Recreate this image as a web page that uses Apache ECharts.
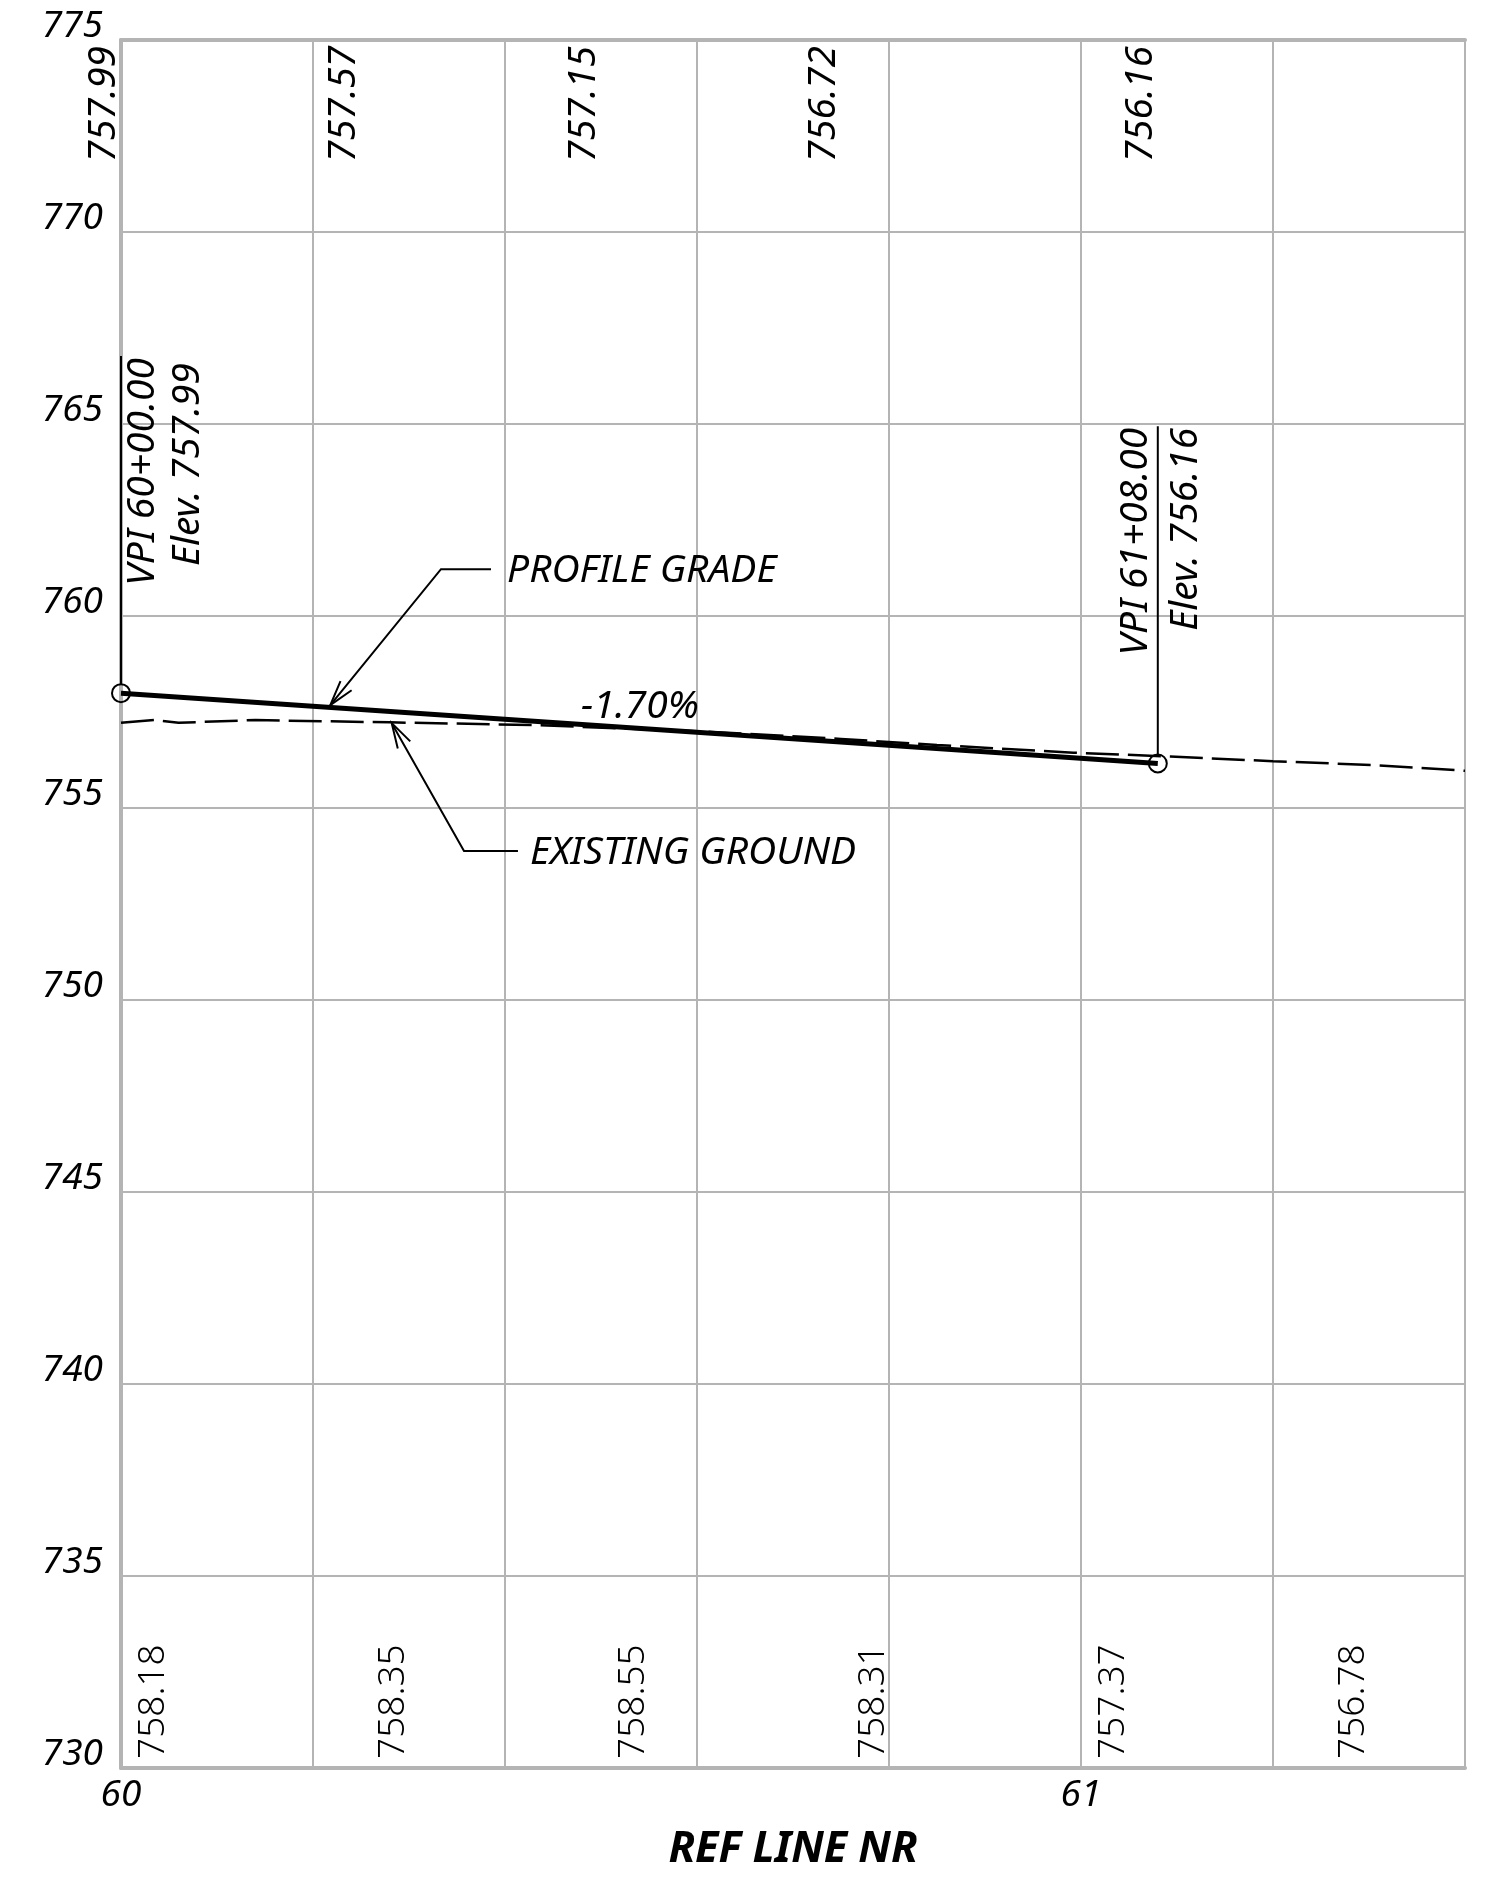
<!DOCTYPE html>
<html>
<head>
<meta charset="utf-8">
<script src="https://cdn.jsdelivr.net/npm/echarts@6/dist/echarts.min.js"></script>
<style>
html,body{margin:0;padding:0;background:#fff;}
#chart{width:1490px;height:1880px;}
</style>
</head>
<body>
<div id="chart"></div>
<script>
// ---------- axes ----------
const xMin = 60, xMax = 61.4, xStep = 0.2;
const yMin = 730, yMax = 775, yStep = 5;
const xTickLabelStations = [60, 61];
const xAxisTitle = 'REF LINE NR';

// ---------- profile grade ----------
const gradeStations = [60.00, 61.08];
const gradeElevs = [757.99, 756.16];
const gradeText = ['-1.70%'];
const gradeTextX = [60.5406];
const gradeTextY = [757.63];

// ---------- VPI annotations ----------
const vpiStations = [60.00, 61.08];
const vpiElevs = [757.99, 756.16];
const vpiStemTops = [766.77, 764.94];
const vpiLine1 = ['VPI 60+00.00', 'VPI 61+08.00'];
const vpiLine2 = ['Elev. 757.99', 'Elev. 756.16'];

// ---------- existing ground ----------
const groundStations = [60.000, 60.035, 60.060, 60.140, 60.280, 60.430, 60.600, 60.750, 60.850, 60.992, 61.093, 61.200, 61.304, 61.400];
const groundElevs    = [757.22, 757.29, 757.22, 757.29, 757.23, 757.16, 757.00, 756.80, 756.64, 756.44, 756.34, 756.22, 756.12, 755.97];

// ---------- elevation labels ----------
const topLabelStations = [60.00, 60.25, 60.50, 60.75, 61.08];
const topLabelTexts = ['757.99', '757.57', '757.15', '756.72', '756.16'];
const bottomLabelStations = [60.00, 60.25, 60.50, 60.75, 61.00, 61.25];
const bottomLabelTexts = ['758.18', '758.35', '758.55', '758.31', '757.37', '756.78'];

// ---------- leaders ----------
const leaderTexts = ['PROFILE GRADE', 'EXISTING GROUND'];
const leaderTipX = [60.218, 60.282];
const leaderTipY = [757.68, 757.21];
const leaderKneeX = [60.3333, 60.3573];
const leaderKneeY = [761.22, 753.88];
const leaderEndX = [60.3854, 60.4135];
const leaderTextX = [60.4021, 60.426];
const leaderTextY = [761.17, 753.83];

// ---------- styling ----------
const FONT = 'Noto Sans';
const GRID = '#b4b4b4';
const INK = '#000';
const ANN = 39;

function txt(x, y, text, o) {
  return {
    type: 'text', x: x, y: y, rotation: o.rot || 0,
    style: {
      text: text, fill: INK, fontFamily: FONT,
      fontSize: o.size || ANN, fontStyle: o.style || 'italic', fontWeight: o.weight || 'normal',
      align: o.align || 'left', verticalAlign: 'middle',
      textAlign: o.align || 'left', textVerticalAlign: 'middle'
    }
  };
}

function arrowHead(tip, from, len, angDeg) {
  const dx = from[0] - tip[0], dy = from[1] - tip[1];
  const L = Math.hypot(dx, dy); const ux = dx / L, uy = dy / L;
  const a = angDeg * Math.PI / 180;
  const r = (c, s) => [tip[0] + len * (ux * c - uy * s), tip[1] + len * (ux * s + uy * c)];
  return [r(Math.cos(a), Math.sin(a)), tip, r(Math.cos(-a), Math.sin(-a))];
}

const ROT = Math.PI / 2;

const chart = echarts.init(document.getElementById('chart'), null, {renderer: 'canvas'});

const option = {
  animation: false,
  backgroundColor: '#fff',
  grid: {left: 121, right: 25, top: 40, bottom: 112, show: true, borderColor: GRID, borderWidth: 2, backgroundColor: 'transparent'},
  xAxis: [{
    type: 'value', min: xMin, max: xMax, interval: xStep, position: 'bottom',
    axisLine: {show: true, onZero: false, lineStyle: {color: GRID, width: 4}},
    axisTick: {show: false},
    splitLine: {show: true, lineStyle: {color: GRID, width: 2}},
    axisLabel: {
      show: true, margin: 9, color: INK, fontFamily: FONT, fontSize: 37, fontStyle: 'italic',
      showMinLabel: true, showMaxLabel: true,
      formatter: function (v) {
        const r = Math.round(v);
        return (Math.abs(v - r) < 1e-6 && xTickLabelStations.indexOf(r) >= 0) ? String(r) : '';
      }
    },
    name: xAxisTitle, nameLocation: 'middle', nameGap: 60,
    nameTextStyle: {color: INK, fontFamily: FONT, fontSize: 43, fontWeight: 'bold', fontStyle: 'italic'}
  }, {
    type: 'value', min: xMin, max: xMax, interval: xStep, position: 'top',
    axisLine: {show: true, onZero: false, lineStyle: {color: GRID, width: 4}},
    axisTick: {show: false}, axisLabel: {show: false}, splitLine: {show: false}
  }],
  yAxis: {
    type: 'value', min: yMin, max: yMax, interval: yStep,
    axisLine: {show: true, onZero: false, lineStyle: {color: GRID, width: 4}},
    axisTick: {show: false},
    splitLine: {show: true, lineStyle: {color: GRID, width: 2}},
    axisLabel: {
      show: true, margin: 18, color: INK, fontFamily: FONT, fontSize: 37, fontStyle: 'italic',
      verticalAlign: 'bottom', lineHeight: 28, showMinLabel: true, showMaxLabel: true
    }
  },
  series: [
    {
      name: 'Existing Ground', type: 'line', z: 3,
      data: groundStations.map((s, i) => [s, groundElevs[i]]),
      showSymbol: false, symbol: 'none',
      lineStyle: {color: INK, width: 2.5, type: [33, 9]}
    },
    {
      name: 'Profile Grade', type: 'line', z: 4,
      data: gradeStations.map((s, i) => [s, gradeElevs[i]]),
      symbol: 'circle', symbolSize: 18, showSymbol: true,
      itemStyle: {color: 'rgba(0,0,0,0)', borderColor: INK, borderWidth: 2},
      lineStyle: {color: INK, width: 5}
    },
    {
      name: 'VPI', type: 'custom', coordinateSystem: 'cartesian2d', z: 5, silent: true,
      data: vpiStations.map((s, i) => [s, vpiElevs[i]]),
      renderItem: function (params, api) {
        const i = params.dataIndex;
        const base = api.coord([vpiStations[i], vpiElevs[i]]);
        const top = api.coord([vpiStations[i], vpiStemTops[i]]);
        const dx1 = [22, -22][i], dx2 = [67, 28][i];
        const dy1 = [2, 1.5][i], dy2 = [7, 1.5][i];
        return {
          type: 'group',
          children: [
            {type: 'line', shape: {x1: base[0], y1: base[1] - 9, x2: top[0], y2: top[1]}, style: {stroke: INK, lineWidth: 2}},
            txt(top[0] + dx1, top[1] + dy1, vpiLine1[i], {rot: ROT, align: 'right'}),
            txt(top[0] + dx2, top[1] + dy2, vpiLine2[i], {rot: ROT, align: 'right'})
          ]
        };
      }
    },
    {
      name: 'Grade Elevations', type: 'custom', coordinateSystem: 'cartesian2d', z: 5, silent: true,
      data: topLabelStations.map((s) => [s, yMax]),
      renderItem: function (params, api) {
        const i = params.dataIndex;
        const p = api.coord([topLabelStations[i], yMax]);
        return txt(p[0] - 16.5, p[1] + 6, topLabelTexts[i], {rot: ROT, align: 'right', size: 38.5});
      }
    },
    {
      name: 'Ground Elevations', type: 'custom', coordinateSystem: 'cartesian2d', z: 5, silent: true,
      data: bottomLabelStations.map((s) => [s, yMin]),
      renderItem: function (params, api) {
        const i = params.dataIndex;
        const p = api.coord([bottomLabelStations[i], yMin]);
        return txt(p[0] + 32, p[1] - 9, bottomLabelTexts[i], {rot: ROT, align: 'left', style: 'normal', weight: 300, size: 37});
      }
    },
    {
      name: 'Leaders', type: 'custom', coordinateSystem: 'cartesian2d', z: 6, silent: true,
      data: leaderTipX.map((s, i) => [s, leaderTipY[i]]),
      renderItem: function (params, api) {
        const i = params.dataIndex;
        const tip = api.coord([leaderTipX[i], leaderTipY[i]]);
        const knee = api.coord([leaderKneeX[i], leaderKneeY[i]]);
        const end = api.coord([leaderEndX[i], leaderKneeY[i]]);
        const lab = api.coord([leaderTextX[i], leaderTextY[i]]);
        return {
          type: 'group',
          children: [
            {type: 'polyline', shape: {points: [tip, knee, end]}, style: {stroke: INK, lineWidth: 2, fill: null}},
            {type: 'polyline', shape: {points: arrowHead(tip, knee, 26, 16)}, style: {stroke: INK, lineWidth: 2, fill: null}},
            txt(lab[0], lab[1], leaderTexts[i], {align: 'left'})
          ]
        };
      }
    },
    {
      name: 'Grade Text', type: 'custom', coordinateSystem: 'cartesian2d', z: 6, silent: true,
      data: gradeTextX.map((s, i) => [s, gradeTextY[i]]),
      renderItem: function (params, api) {
        const i = params.dataIndex;
        const p = api.coord([gradeTextX[i], gradeTextY[i]]);
        return txt(p[0], p[1], gradeText[i], {align: 'center'});
      }
    }
  ]
};

chart.setOption(option);
</script>
</body>
</html>
